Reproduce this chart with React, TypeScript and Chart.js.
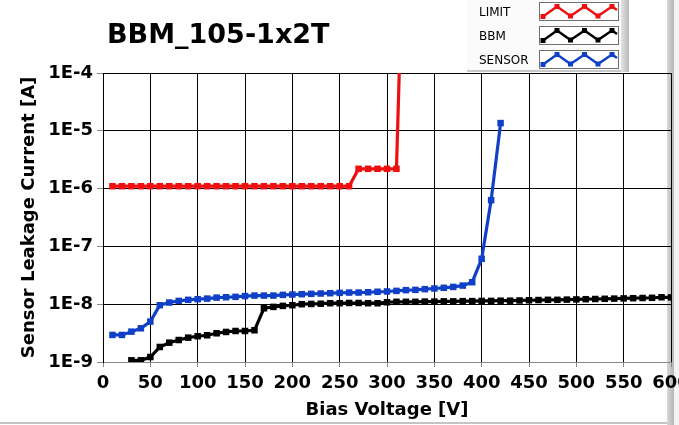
import React, { useEffect, useRef } from 'react';
import { Chart, registerables } from 'chart.js';

Chart.register(...registerables);

// ---- data ----
const limitVoltage = [10, 20, 30, 40, 50, 60, 70, 80, 90, 100, 110, 120, 130, 140, 150, 160, 170, 180, 190, 200, 210, 220, 230, 240, 250, 260, 270, 280, 290, 300, 310, 320];
const limitCurrent = [1.1e-6, 1.1e-6, 1.1e-6, 1.1e-6, 1.1e-6, 1.1e-6, 1.1e-6, 1.1e-6, 1.1e-6, 1.1e-6, 1.1e-6, 1.1e-6, 1.1e-6, 1.1e-6, 1.1e-6, 1.1e-6, 1.1e-6, 1.1e-6, 1.1e-6, 1.1e-6, 1.1e-6, 1.1e-6, 1.1e-6, 1.1e-6, 1.1e-6, 1.1e-6, 2.2e-6, 2.2e-6, 2.2e-6, 2.2e-6, 2.2e-6, 1e0];

const bbmVoltage = [30, 40, 50, 60, 70, 80, 90, 100, 110, 120, 130, 140, 150, 160, 170, 180, 190, 200, 210, 220, 230, 240, 250, 260, 270, 280, 290, 300, 310, 320, 330, 340, 350, 360, 370, 380, 390, 400, 410, 420, 430, 440, 450, 460, 470, 480, 490, 500, 510, 520, 530, 540, 550, 560, 570, 580, 590, 600];
const bbmCurrent = [1.07e-9, 1.07e-9, 1.22e-9, 1.82e-9, 2.16e-9, 2.4e-9, 2.64e-9, 2.79e-9, 2.9e-9, 3.14e-9, 3.31e-9, 3.44e-9, 3.44e-9, 3.54e-9, 8.5e-9, 8.98e-9, 9.35e-9, 9.6e-9, 1.0e-8, 1.01e-8, 1.02e-8, 1.04e-8, 1.04e-8, 1.05e-8, 1.05e-8, 1.04e-8, 1.04e-8, 1.08e-8, 1.1e-8, 1.1e-8, 1.1e-8, 1.11e-8, 1.11e-8, 1.12e-8, 1.12e-8, 1.13e-8, 1.13e-8, 1.14e-8, 1.14e-8, 1.15e-8, 1.15e-8, 1.16e-8, 1.17e-8, 1.18e-8, 1.19e-8, 1.19e-8, 1.2e-8, 1.21e-8, 1.22e-8, 1.23e-8, 1.24e-8, 1.25e-8, 1.26e-8, 1.27e-8, 1.28e-8, 1.29e-8, 1.32e-8, 1.31e-8];

const sensorVoltage = [10, 20, 30, 40, 50, 60, 70, 80, 90, 100, 110, 120, 130, 140, 150, 160, 170, 180, 190, 200, 210, 220, 230, 240, 250, 260, 270, 280, 290, 300, 310, 320, 330, 340, 350, 360, 370, 380, 390, 400, 410, 420];
const sensorCurrent = [2.94e-9, 2.94e-9, 3.35e-9, 3.83e-9, 5.0e-9, 9.6e-9, 1.07e-8, 1.14e-8, 1.19e-8, 1.22e-8, 1.25e-8, 1.3e-8, 1.32e-8, 1.34e-8, 1.38e-8, 1.41e-8, 1.41e-8, 1.41e-8, 1.45e-8, 1.47e-8, 1.49e-8, 1.51e-8, 1.53e-8, 1.55e-8, 1.57e-8, 1.59e-8, 1.59e-8, 1.61e-8, 1.64e-8, 1.66e-8, 1.7e-8, 1.75e-8, 1.77e-8, 1.82e-8, 1.87e-8, 1.92e-8, 1.99e-8, 2.1e-8, 2.4e-8, 6.1e-8, 6.3e-7, 1.36e-5];

const yTickValues = [1e-9, 1e-8, 1e-7, 1e-6, 1e-5, 1e-4];
const yTickLabels = ['1E-9', '1E-8', '1E-7', '1E-6', '1E-5', '1E-4'];
const xTickValues = [0, 50, 100, 150, 200, 250, 300, 350, 400, 450, 500, 550, 600];

const seriesNames = ['LIMIT', 'BBM', 'SENSOR'];
const seriesColors = ['#ee1010', '#000000', '#1040c8'];

const TITLE = 'BBM_105-1x2T';
const X_TITLE = 'Bias Voltage [V]';
const Y_TITLE = 'Sensor Leakage Current [A]';

const FONT = "'DejaVu Sans', Verdana, sans-serif";

function zip(xs: number[], ys: number[]) {
  return xs.map((x, i) => ({ x, y: ys[i] }));
}

function LegendGlyph({ color }: { color: string }) {
  // decorative legend sample (zig-zag with square markers)
  const pts: [number, number][] = [[3, 13.5], [17, 3.5], [30.5, 13], [44.5, 3.5], [58, 13], [72, 3.5], [77, 7]];
  return (
    <svg width={78} height={17} style={{ display: 'block' }}>
      <polyline points={pts.map(p => p.join(',')).join(' ')} fill="none" stroke={color} strokeWidth={2.5} strokeLinejoin="miter" />
      {pts.slice(0, 6).map((p, i) => (
        <rect key={i} x={p[0] - 2.5} y={p[1] - 2.5} width={5} height={5} fill={color} />
      ))}
    </svg>
  );
}

export default function App() {
  const canvasRef = useRef<HTMLCanvasElement | null>(null);

  useEffect(() => {
    const canvas = canvasRef.current;
    if (!canvas) return;
    const datasets = [
      zip(limitVoltage, limitCurrent),
      zip(bbmVoltage, bbmCurrent),
      zip(sensorVoltage, sensorCurrent),
    ].map((data, i) => ({
      label: seriesNames[i],
      data,
      borderColor: seriesColors[i],
      backgroundColor: seriesColors[i],
      borderWidth: 3.2,
      pointStyle: 'rect' as const,
      pointRadius: 4.6,
      pointBorderWidth: 0,
      pointBackgroundColor: seriesColors[i],
      tension: 0,
      fill: false,
    }));

    const chart = new Chart(canvas, {
      type: 'line',
      data: { datasets },
      options: {
        animation: false,
        responsive: false,
        maintainAspectRatio: false,
        devicePixelRatio: 1,
        layout: { padding: { top: 73, right: 8, left: 0, bottom: 0 } },
        plugins: {
          legend: { display: false },
          title: { display: false },
          tooltip: { enabled: false },
        },
        scales: {
          x: {
            type: 'linear',
            min: 0,
            max: 600,
            afterBuildTicks: (s: any) => {
              s.ticks = xTickValues.map(v => ({ value: v }));
            },
            afterFit: (s: any) => {
              s.height = 63;
              s.paddingLeft = 0;
              s.paddingRight = 0;
            },
            ticks: {
              color: '#000',
              font: { family: FONT, size: 18, weight: 'bold' },
              padding: 6,
              maxRotation: 0,
              autoSkip: false,
            },
            grid: { color: '#000', lineWidth: 1, tickColor: '#888', tickLength: 5 },
            border: { color: '#888', width: 1 },
            title: {
              display: true,
              text: X_TITLE,
              color: '#000',
              font: { family: FONT, size: 18, weight: 'bold' },
              padding: { top: 0, bottom: 4 },
            },
          },
          y: {
            type: 'logarithmic',
            min: 1e-9,
            max: 1e-4,
            afterBuildTicks: (s: any) => {
              s.ticks = yTickValues.map(v => ({ value: v }));
            },
            afterFit: (s: any) => {
              s.width = 103;
              s.paddingTop = 0;
              s.paddingBottom = 0;
            },
            ticks: {
              color: '#000',
              font: { family: FONT, size: 18, weight: 'bold' },
              padding: 4,
              autoSkip: false,
              callback: (v: any) => {
                const idx = yTickValues.indexOf(Number(v));
                return idx >= 0 ? yTickLabels[idx] : '';
              },
            },
            grid: { color: '#000', lineWidth: 1, tickColor: '#888', tickLength: 6 },
            border: { color: '#000', width: 1 },
            title: {
              display: true,
              text: Y_TITLE,
              color: '#000',
              font: { family: FONT, size: 18, weight: 'bold' },
              padding: { top: 19, bottom: 0 },
            },
          },
        },
      },
    } as any);
    return () => chart.destroy();
  }, []);

  const rowTops = [2, 26, 50];

  return (
    <div style={{ position: 'absolute', left: 0, top: 0, width: 679, height: 425, background: '#fff', overflow: 'hidden' }}>
      {/* right frame bar (behind canvas) */}
      <div style={{ position: 'absolute', left: 667, top: 0, width: 7, height: 425, background: 'linear-gradient(to right, #d8d8d8, #b4b4b4)' }} />
      <div style={{ position: 'absolute', left: 674, top: 0, width: 5, height: 425, background: '#f3f3f3' }} />
      {/* bottom frame line */}
      <div style={{ position: 'absolute', left: 0, top: 422, width: 667, height: 2, background: '#c4c4c4' }} />
      <canvas ref={canvasRef} width={679} height={425} style={{ position: 'absolute', left: 0, top: 0, width: 679, height: 425 }} />
      {/* title */}
      <div style={{ position: 'absolute', left: 107, top: 18, fontFamily: FONT, fontWeight: 'bold', fontSize: 27, color: '#000', whiteSpace: 'nowrap' }}>{TITLE}</div>
      {/* legend panel */}
      <div style={{ position: 'absolute', left: 467, top: 0, width: 154, height: 70, background: '#fbfbfb', borderBottom: '2px solid #c8c8c8' }} />
      <div style={{ position: 'absolute', left: 621, top: 0, width: 8, height: 72, background: 'linear-gradient(to right, #e4e4e4, #b8b8b8)' }} />
      {seriesNames.map((name, i) => (
        <React.Fragment key={name}>
          <div style={{ position: 'absolute', left: 479, top: rowTops[i] + 2, height: 16, lineHeight: '16px', fontFamily: FONT, fontSize: 12, color: '#000', whiteSpace: 'nowrap' }}>{name}</div>
          <div style={{ position: 'absolute', left: 539, top: rowTops[i], width: 78, height: 17, border: '1px solid #707070', background: '#fff' }}>
            <LegendGlyph color={seriesColors[i]} />
          </div>
        </React.Fragment>
      ))}
    </div>
  );
}
